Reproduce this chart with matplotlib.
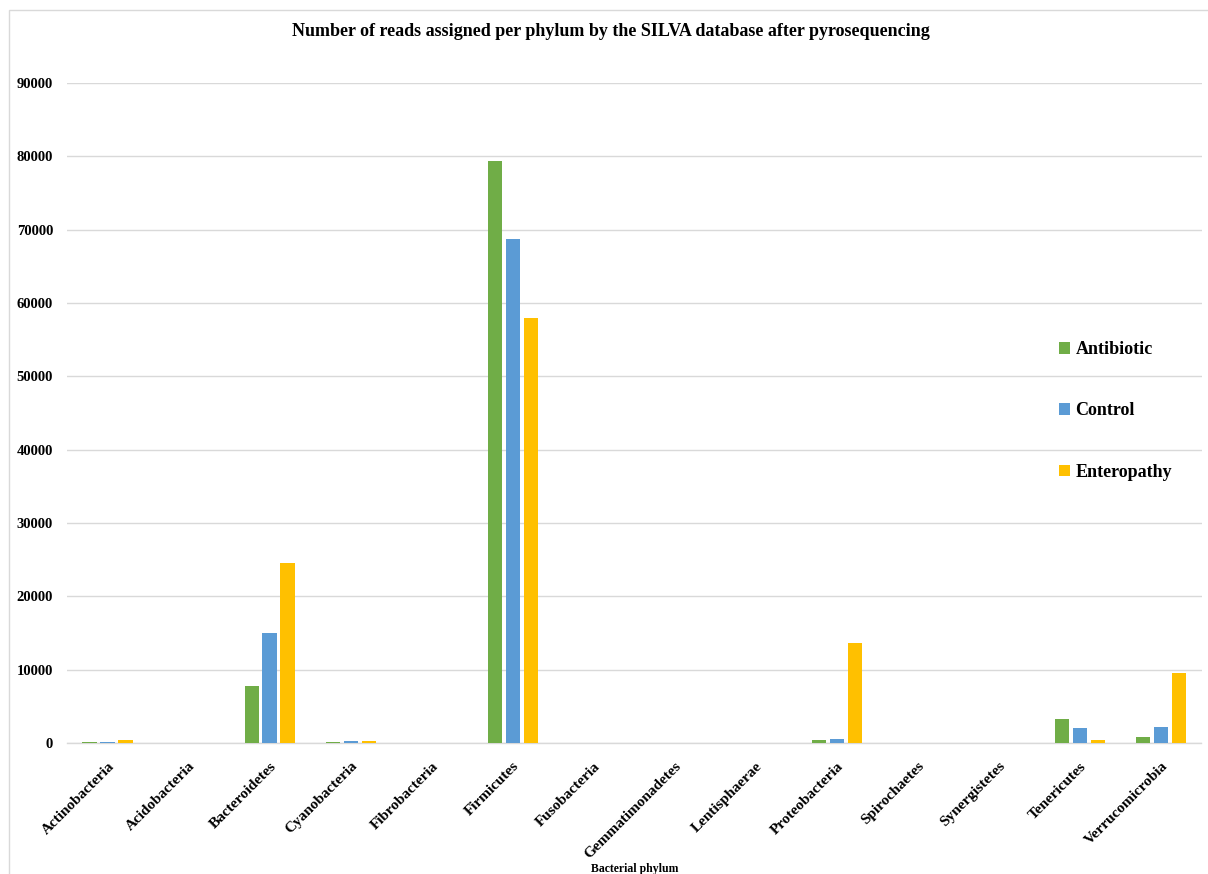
import matplotlib
matplotlib.use("Agg")
import matplotlib.pyplot as plt
import numpy as np
from matplotlib.patches import Rectangle, Patch

plt.rcParams['font.family'] = ['Liberation Serif', 'DejaVu Serif']
plt.rcParams['font.weight'] = 'bold'

phyla = ["Actinobacteria", "Acidobacteria", "Bacteroidetes", "Cyanobacteria",
         "Fibrobacteria", "Firmicutes", "Fusobacteria", "Gemmatimonadetes",
         "Lentisphaerae", "Proteobacteria", "Spirochaetes", "Synergistetes",
         "Tenericutes", "Verrucomicrobia"]
antibiotic = [150, 0, 7800, 120, 0, 79400, 0, 0, 0, 400, 0, 0, 3270, 780]
control = [170, 0, 15000, 250, 0, 68700, 0, 0, 0, 520, 0, 0, 2050, 2220]
enteropathy = [450, 0, 24550, 320, 0, 58000, 0, 0, 0, 13640, 0, 0, 370, 9550]
series_names = ["Antibiotic", "Control", "Enteropathy"]
colors = ["#70AD47", "#5B9BD5", "#FFC000"]
yticks = list(range(0, 90001, 10000))

fig = plt.figure(figsize=(12.08, 8.74), dpi=100)
ax = fig.add_axes([67 / 1208, 1 - 743 / 874, (1201.5 - 67) / 1208, (743 - 83) / 874])

x = np.arange(len(phyla))
step = 0.222
width = 0.175
for i, (vals, name, c) in enumerate(zip([antibiotic, control, enteropathy], series_names, colors)):
    ax.bar(x + (i - 1) * step, vals, width=width, color=c, label=name, zorder=3)

ax.set_xlim(-0.5, len(phyla) - 0.5)
ax.set_ylim(0, 90000)
ax.set_yticks(yticks)
ax.set_yticklabels([str(v) for v in yticks], fontsize=10.5, fontweight='bold')
ax.set_xticks(x)
ax.set_xticklabels(phyla, rotation=45, ha='right', rotation_mode='anchor',
                   fontsize=11, fontweight='bold')
ax.tick_params(axis='both', length=0)
ax.tick_params(axis='y', pad=10)
ax.tick_params(axis='x', pad=12)
ax.grid(axis='y', color='#D9D9D9', linewidth=1, zorder=0)
for s in ['top', 'right', 'left']:
    ax.spines[s].set_visible(False)
ax.spines['bottom'].set_color('#D9D9D9')
ax.spines['bottom'].set_linewidth(1)

fig.text(611 / 1208, 1 - 31 / 874, "Number of reads assigned per phylum by the SILVA database after pyrosequencing",
         ha='center', va='center', fontsize=13, fontweight='bold')
fig.text(635 / 1208, 1 - 869 / 874, "Bacterial phylum", ha='center', va='center',
         fontsize=8.5, fontweight='bold')

handles = [Patch(facecolor=c, label=n) for c, n in zip(colors, series_names)]
fig.legend(handles=handles, loc='upper left', bbox_to_anchor=(1043 / 1208, 1 - 325 / 874),
           frameon=False, prop={'weight': 'bold', 'size': 13},
           handlelength=0.6, handleheight=0.6, handletextpad=0.3, labelspacing=2.45)

fig.patches.append(Rectangle((9 / 1208, -0.01), 1.0, 1 - 10 / 874 + 0.01, transform=fig.transFigure,
                             fill=False, edgecolor='#D9D9D9', linewidth=1))

fig.savefig("out.png", dpi=100, facecolor='white')
